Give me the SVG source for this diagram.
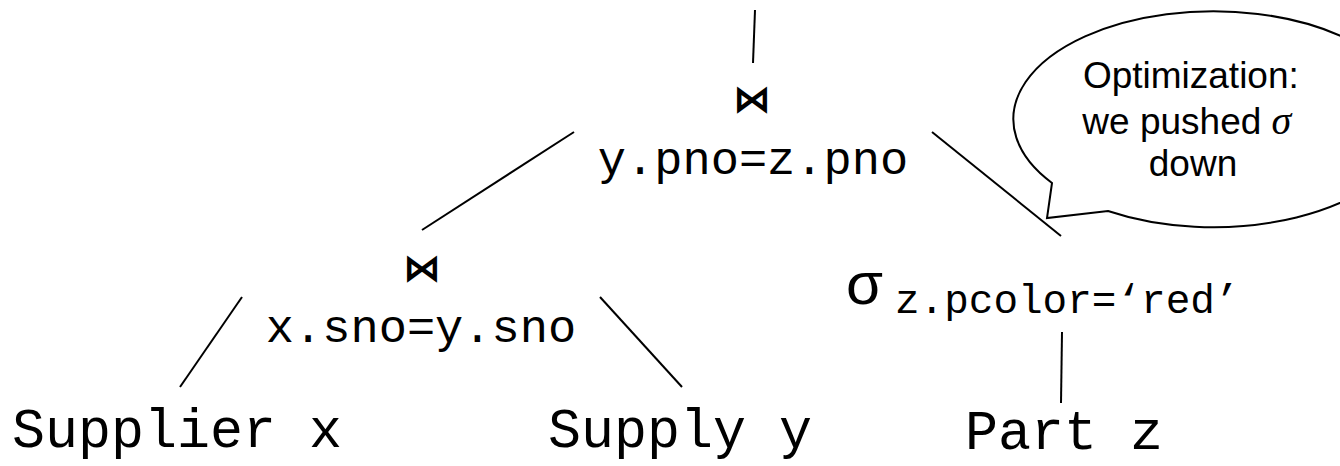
<svg xmlns="http://www.w3.org/2000/svg" width="1340" height="466" viewBox="0 0 1340 466">
<style>
.mono{font-family:"Courier New","Nimbus Mono PS","Nimbus Mono L",FreeMono,"Liberation Mono",monospace;fill:#000}
.join{font-family:"DejaVu Sans",sans-serif;font-weight:bold;font-size:38px;fill:#000}
.rel{font-size:55px}
.cond{font-size:47px}
.sans{font-family:"Liberation Sans",Arial,sans-serif;fill:#000}
.edge{stroke:#000;stroke-width:2;fill:none}
</style>
<rect width="1340" height="466" fill="#fff"/>
<g id="connectors">
<line class="edge" x1="755" y1="10" x2="753" y2="63"/>
<line class="edge" x1="574" y1="132" x2="422" y2="230"/>
<line class="edge" x1="932" y1="132" x2="1061" y2="236"/>
<line class="edge" x1="242" y1="297" x2="180" y2="387"/>
<line class="edge" x1="600" y1="297" x2="682" y2="387"/>
<line class="edge" x1="1062" y1="332" x2="1061" y2="403"/>
</g>
<g id="join-top">
<text class="join" x="752" y="112" text-anchor="middle">⋈</text>
<text class="mono cond" x="753" y="174" text-anchor="middle">y.pno=z.pno</text>
</g>
<g id="join-bottom">
<text class="join" x="422" y="281" text-anchor="middle">⋈</text>
<text class="mono cond" x="421" y="342" text-anchor="middle">x.sno=y.sno</text>
</g>
<g id="select">
<text class="sans" x="846" y="304" font-size="60">σ</text>
<text class="mono" x="895" y="313" font-size="41">z.pcolor=‘red’</text>
</g>
<g id="supplier">
<text class="mono rel" x="12" y="447">Supplier x</text>
</g>
<g id="supply">
<text class="mono rel" x="548" y="447">Supply y</text>
</g>
<g id="part">
<text class="mono rel" x="965" y="449">Part z</text>
</g>
<g id="callout">
<path class="edge" d="M1052,183 L1047,218 L1108,211 A200,108 0 1 0 1052,183 Z" fill="#fff"/>
<text class="sans" font-size="37" text-anchor="middle">
<tspan x="1196" y="88">Optimization:</tspan>
<tspan x="1192" y="134">we pushed <tspan font-family="Liberation Serif" font-style="italic" font-size="40">σ</tspan></tspan>
<tspan x="1193" y="176">down</tspan>
</text>
</g>
</svg>
